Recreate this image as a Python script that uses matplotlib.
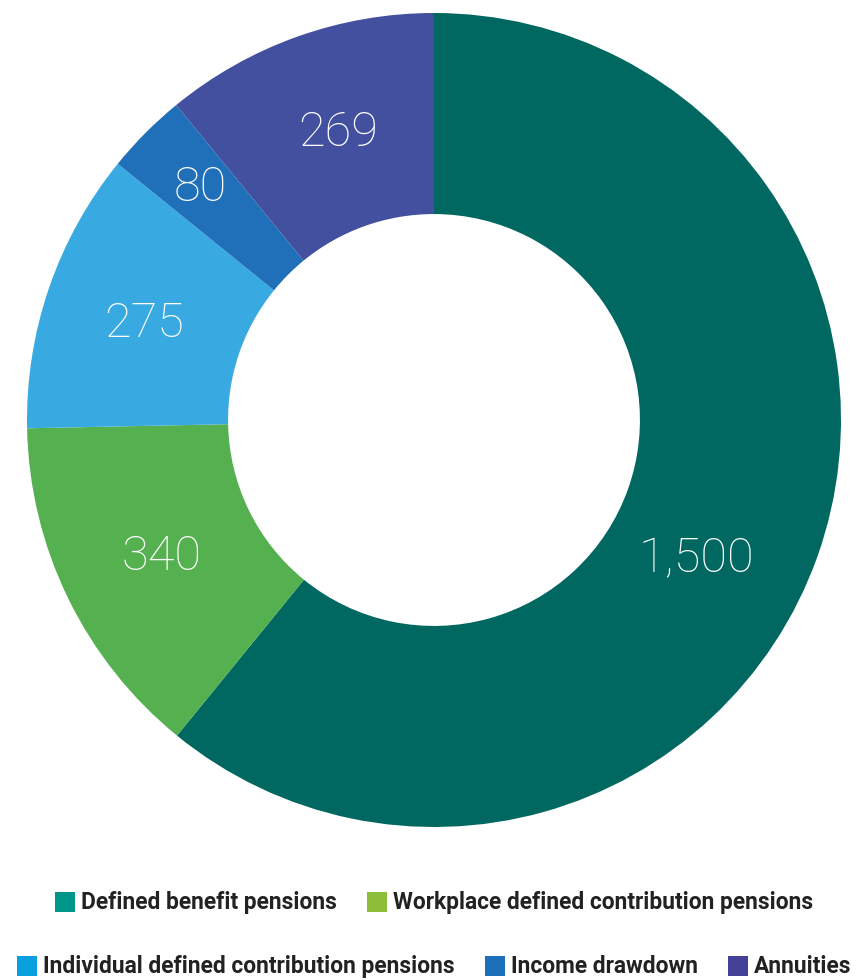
import numpy as np
import matplotlib
matplotlib.use("Agg")
import matplotlib.pyplot as plt
from matplotlib.patches import Rectangle

categories = ["Defined benefit pensions", "Workplace defined contribution pensions",
              "Individual defined contribution pensions", "Income drawdown", "Annuities"]
values = [1500, 340, 275, 80, 269]
value_labels = ["1,500", "340", "275", "80", "269"]
wedge_colors = ["#006860", "#55B050", "#38A9E1", "#1F70B9", "#42509F"]
legend_colors = ["#00968A", "#8DBE3A", "#0AA0E0", "#1C6FB8", "#443F97"]
legend_rows = [[0, 1], [2, 3, 4]]

W, H = 857, 980
fig = plt.figure(figsize=(W / 100, H / 100), dpi=100)
ax = fig.add_axes([27 / W, (H - 827) / H, 814 / W, 814 / H])
wedges, _ = ax.pie(values, colors=wedge_colors, startangle=90, counterclock=False,
                   radius=1.0, wedgeprops=dict(width=0.494, linewidth=0))
ax.set_xlim(-1, 1)
ax.set_ylim(-1, 1)
ax.set_aspect("equal")
ax.axis("off")

# label placement (radius fraction, angle offset in degrees) per wedge
label_r = [0.73, 0.75, 0.75, 0.81, 0.745]
label_dang = [-8.3, 0.7, 0.6, 0.0, -1.2]
for w, lab, r, da in zip(wedges, value_labels, label_r, label_dang):
    ang = np.deg2rad((w.theta1 + w.theta2) / 2 + da)
    ax.text(r * np.cos(ang), r * np.sin(ang), lab, ha="center", va="center",
            color="white", fontsize=35, family=["Roboto", "DejaVu Sans"], fontweight="light")

# legend, manually laid out and centered on pie
fig.canvas.draw()
renderer = fig.canvas.get_renderer()
sq = 20
gap_txt = 6
gap_item = 30
row_y = [H - 902, H - 966]
cx = 434
for row, yc in zip(legend_rows, row_y):
    texts = []
    widths = []
    for i in row:
        t = fig.text(0, yc / H, categories[i], fontsize=16.4, fontweight="bold",
                     family=["Roboto", "DejaVu Sans"], color="#222222", va="center", ha="left")
        bb = t.get_window_extent(renderer)
        texts.append(t)
        widths.append(bb.width)
    total = sum(sq + gap_txt + w for w in widths) + gap_item * (len(row) - 1)
    x = cx - total / 2
    for i, t, w in zip(row, texts, widths):
        fig.patches.append(Rectangle((x / W, (yc - sq / 2) / H), sq / W, sq / H,
                                     transform=fig.transFigure, facecolor=legend_colors[i],
                                     edgecolor="none"))
        t.set_x((x + sq + gap_txt) / W)
        x += sq + gap_txt + w + gap_item

fig.savefig("out.png", dpi=100)
